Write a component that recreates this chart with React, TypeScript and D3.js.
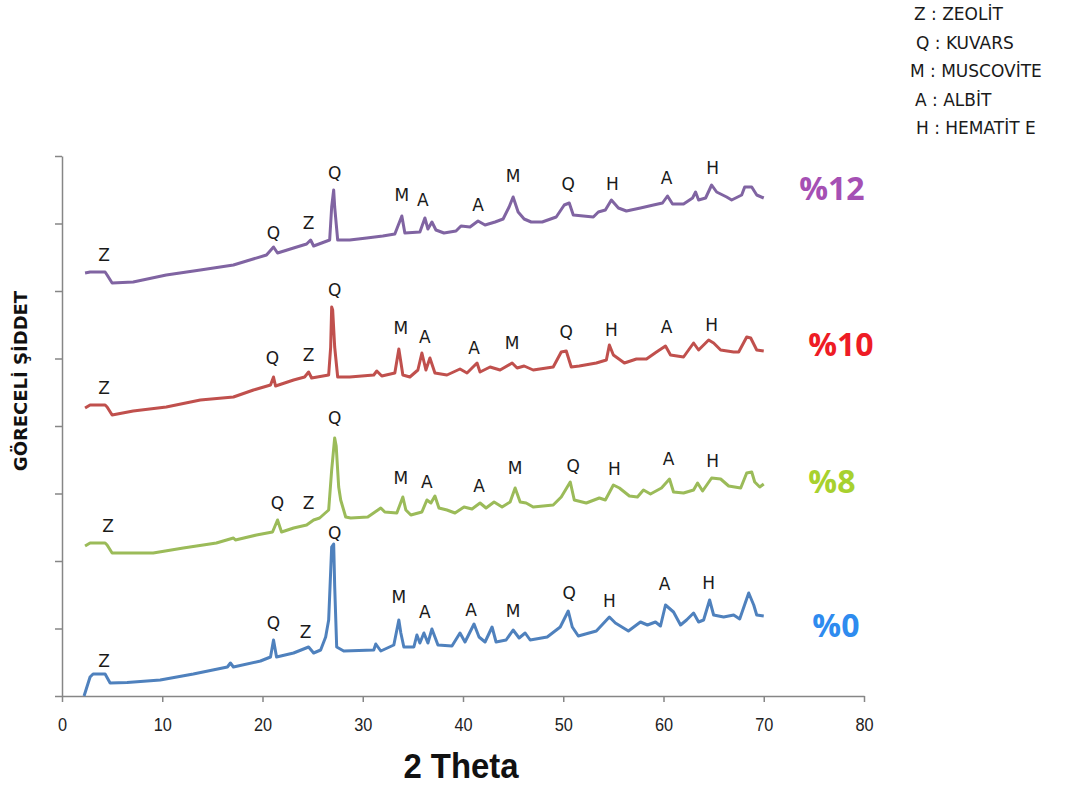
import React, { useEffect, useRef } from 'react';
import * as d3 from 'd3';

// [2 theta, level] — levels are already stacked (offset) as in the figure
const sample0 = [[2.2,0],[2.8,19],[3.1,22],[4.3,22],[4.8,13],[6.5,13.5],[9.8,16],[13.1,22],[16.5,29],[16.8,33],[17.1,29],[19.8,35],[20.8,39],[21.1,56],[21.4,39],[23.1,43],[24.6,49],[25.1,43],[25.8,46],[26.3,59],[26.6,76],[26.9,149],[27.1,152],[27.2,110],[27.4,49],[28.1,45],[31.1,46],[31.3,52],[31.8,45],[33.1,51],[33.6,76],[33.8,63],[34.1,49],[35.1,49],[35.4,61],[35.7,53],[36.1,63],[36.5,53],[36.9,67],[37.5,51],[38.9,50],[39.7,63],[40.2,54],[41.1,72],[41.6,59],[42.2,54],[42.9,69],[43.3,54],[44.3,56],[45.0,66],[45.6,58],[46.2,63],[46.7,56],[48.4,59],[49.7,69],[50.5,85],[50.9,69],[51.5,60],[53.3,65],[54.6,79],[55.2,73],[56.5,65],[57.7,74],[58.4,71],[59.2,74],[59.7,70],[60.2,91],[61.0,84],[61.7,71],[62.3,76],[63.0,83],[63.5,74],[64.0,76],[64.6,96],[65.0,81],[66.0,79],[67.0,81],[67.6,77],[68.5,103],[69.0,91],[69.3,81],[70.0,80]];
const sample8 = [[2.3,150],[2.8,153],[4.3,153],[4.5,151],[5.0,143],[7.1,143],[9.1,143],[12.1,148],[15.4,153],[17.1,158],[17.3,156],[19.4,161],[21.0,164],[21.5,176],[21.9,164],[23.1,168],[24.4,171],[25.1,176],[25.7,178],[26.6,186],[26.9,226],[27.2,258],[27.35,250],[27.6,209],[27.8,196],[28.3,179],[28.8,178],[30.5,179],[31.8,188],[32.2,184],[33.4,183],[34.0,199],[34.3,186],[34.8,181],[35.9,184],[36.4,196],[36.8,193],[37.2,200],[37.6,188],[38.4,186],[39.2,183],[40.1,189],[40.9,187],[41.7,193],[42.3,188],[43.1,194],[43.9,189],[44.7,194],[45.2,208],[45.7,194],[46.3,193],[47.0,189],[49.0,191],[49.8,199],[50.7,214],[51.1,196],[52.3,193],[53.6,198],[54.2,196],[55.0,211],[55.6,208],[56.6,200],[57.4,199],[58.0,206],[58.7,202],[59.8,208],[60.6,217],[61.0,204],[62.0,203],[63.0,206],[63.4,213],[63.9,205],[64.8,218],[65.7,217],[66.5,210],[67.7,208],[68.3,223],[68.8,224],[69.1,214],[69.6,209],[70.0,212]];
const sample10 = [[2.3,288],[2.8,291],[4.3,291],[4.5,289],[5.0,281],[7.1,285],[10.4,289],[13.8,296],[17.1,299],[19.1,306],[20.8,311],[21.1,319],[21.3,310],[23.1,316],[24.2,319],[24.6,324],[24.9,318],[26.6,321],[26.8,349],[26.9,389],[27.0,386],[27.2,349],[27.5,319],[28.7,319],[31.1,321],[31.4,325],[31.9,320],[33.2,323],[33.6,347],[34.0,321],[34.7,319],[35.5,326],[35.9,343],[36.3,326],[36.7,338],[37.2,323],[38.4,321],[39.7,327],[40.4,323],[41.4,333],[41.7,324],[42.7,329],[43.7,326],[44.9,333],[45.4,328],[46.1,330],[47.0,326],[49.0,329],[49.8,344],[50.3,345],[50.8,329],[51.6,330],[53.3,333],[54.3,336],[54.6,351],[55.0,341],[56.1,333],[57.3,337],[58.3,337],[59.3,344],[60.2,350],[60.7,341],[62.0,339],[63.0,353],[63.5,346],[64.5,356],[65.0,353],[65.7,346],[67.0,344],[67.5,344],[68.3,359],[68.7,358],[69.3,346],[70.0,345]];
const sample12 = [[2.3,423],[2.8,424],[4.3,424],[4.5,421],[5.0,413],[7.1,414],[10.4,421],[13.8,426],[17.1,431],[20.4,441],[21.1,449],[21.5,443],[23.1,448],[24.4,452],[24.8,456],[25.1,450],[26.7,456],[26.9,489],[27.1,506],[27.2,489],[27.5,456],[28.7,456],[30.4,458],[32.0,460],[33.2,462],[33.9,480],[34.2,463],[35.7,464],[36.2,478],[36.5,467],[36.9,474],[37.3,466],[38.1,463],[39.3,465],[39.8,470],[40.7,469],[41.5,475],[42.2,471],[43.2,474],[44.0,477],[44.6,489],[45.0,499],[45.5,484],[46.1,477],[46.8,474],[47.9,474],[49.3,479],[50.1,491],[50.6,493],[51.0,481],[52.0,480],[53.0,479],[53.5,484],[54.2,486],[54.8,496],[55.5,488],[56.3,485],[57.7,488],[59.0,491],[59.9,493],[60.4,500],[60.9,492],[62.0,492],[62.9,498],[63.2,504],[63.5,496],[64.2,498],[64.8,511],[65.3,504],[66.3,499],[66.8,496],[67.8,501],[68.1,509],[68.8,509],[69.3,501],[70.0,498]];

const peakLetters = ['Z', 'Q', 'Z', 'Q', 'M', 'A', 'A', 'M', 'Q', 'H', 'A', 'H'];
const peaks0Theta = [4.2, 21.1, 24.3, 27.2, 33.6, 36.2, 40.8, 45.0, 50.6, 54.6, 60.1, 64.5];
const peaks0Level = [35, 73, 64, 163, 99, 84, 86, 85, 103, 95, 112, 113];
const peaks8Theta = [4.6, 21.5, 24.6, 27.2, 33.8, 36.4, 41.6, 45.2, 51.0, 55.1, 60.5, 64.9];
const peaks8Level = [170, 193, 193, 278, 218, 214, 210, 228, 230, 227, 237, 235];
const peaks10Theta = [4.2, 21.0, 24.6, 27.2, 33.8, 36.2, 41.1, 44.9, 50.3, 54.8, 60.3, 64.8];
const peaks10Level = [308, 338, 341, 406, 368, 359, 348, 353, 364, 366, 369, 371];
const peaks12Theta = [4.2, 21.1, 24.6, 27.2, 33.9, 36.0, 41.5, 45.0, 50.5, 54.9, 60.3, 64.9];
const peaks12Level = [441, 463, 473, 523, 501, 496, 491, 520, 512, 512, 518, 528];

const sampleNames = ['%0', '%8', '%10', '%12'];
const lineColors = ['#4F81BD', '#9BBB59', '#C0504D', '#8064A2'];
const nameColors = ['#2E8BEF', '#A8D12E', '#EE1C25', '#A550B4'];
const nameTheta = [77.2, 76.8, 77.7, 76.8];
const nameLevel = [71, 215, 352, 508];

const legendLines = ['Z : ZEOLİT', 'Q : KUVARS', 'M : MUSCOVİTE', 'A : ALBİT', 'H : HEMATİT E'];
const legendX = [914, 916, 910, 915, 916];

const xTicks = d3.range(0, 81, 10);
const yTicks = d3.range(0, 541, 67.5);

const App = () => {
  const ref = useRef<SVGSVGElement>(null);

  useEffect(() => {
    const svg = d3.select(ref.current);
    svg.selectAll('*').remove();

    const x = d3.scaleLinear().domain([0, 80]).range([62, 864]);
    const y = d3.scaleLinear().domain([0, 540]).range([696, 156]);

    const samples = [sample0, sample8, sample10, sample12];
    const peakTheta = [peaks0Theta, peaks8Theta, peaks10Theta, peaks12Theta];
    const peakLevel = [peaks0Level, peaks8Level, peaks10Level, peaks12Level];

    // axes
    const xAxis = svg.append('g')
      .attr('transform', `translate(0,${y(0)})`)
      .call(d3.axisBottom(x).tickValues(xTicks).tickSize(6).tickSizeOuter(0).tickPadding(16));
    xAxis.select('.domain').attr('stroke', '#868686').attr('stroke-width', 1.5);
    xAxis.selectAll('.tick line').attr('stroke', '#868686').attr('stroke-width', 1.5);
    xAxis.selectAll('.tick text')
      .attr('fill', '#222')
      .attr('transform', 'scale(0.86,1)')
      .style('font-family', '"Liberation Sans", sans-serif')
      .style('font-size', '19px');

    const yAxis = svg.append('g')
      .attr('transform', `translate(${x(0)},0)`)
      .call(d3.axisLeft(y).tickValues(yTicks).tickFormat(() => '').tickSize(7).tickSizeOuter(0));
    yAxis.select('.domain').attr('stroke', '#868686').attr('stroke-width', 1.5);
    yAxis.selectAll('.tick line').attr('stroke', '#868686').attr('stroke-width', 1.5);

    const line = d3.line<number[]>()
      .x((d) => x(d[0]))
      .y((d) => y(d[1]));

    samples.forEach((s, i) => {
      svg.append('path')
        .datum(s)
        .attr('d', line)
        .attr('fill', 'none')
        .attr('stroke', lineColors[i])
        .attr('stroke-width', 3)
        .attr('stroke-linejoin', 'round');

      svg.append('g')
        .selectAll('text')
        .data(peakLetters)
        .join('text')
        .attr('x', (d, j) => x(peakTheta[i][j]))
        .attr('y', (d, j) => y(peakLevel[i][j]))
        .attr('dy', '0.36em')
        .attr('text-anchor', 'middle')
        .attr('fill', '#1a1a1a')
        .style('font-family', '"DejaVu Sans", sans-serif')
        .style('font-size', '17px')
        .text((d) => d);

      svg.append('text')
        .attr('x', x(nameTheta[i]))
        .attr('y', y(nameLevel[i]))
        .attr('dy', '0.36em')
        .attr('text-anchor', 'middle')
        .attr('fill', nameColors[i])
        .style('font-family', '"Open Sans", sans-serif')
        .style('font-weight', 'bold')
        .style('font-size', '32px')
        .text(sampleNames[i]);
    });

    // axis titles
    svg.append('text')
      .attr('transform', 'translate(461,778) scale(0.94,1)')
      .attr('text-anchor', 'middle')
      .attr('fill', '#111')
      .style('font-family', '"Liberation Sans", sans-serif')
      .style('font-weight', 'bold')
      .style('font-size', '35px')
      .text('2 Theta');

    svg.append('text')
      .attr('transform', 'translate(21,381) rotate(-90)')
      .attr('dy', '0.36em')
      .attr('text-anchor', 'middle')
      .attr('fill', '#111')
      .style('font-family', '"DejaVu Sans", sans-serif')
      .style('font-weight', 'bold')
      .style('font-size', '18px')
      .text('GÖRECELİ ŞİDDET');

    // mineral key, top right
    svg.append('g')
      .selectAll('text')
      .data(legendLines)
      .join('text')
      .attr('x', (d, i) => legendX[i])
      .attr('y', (d, i) => 14 + i * 28.5)
      .attr('dy', '0.36em')
      .attr('fill', '#1a1a1a')
      .style('font-family', '"DejaVu Sans", sans-serif')
      .style('font-size', '17px')
      .text((d) => d);
  }, []);

  return (
    <svg
      ref={ref}
      width={1083}
      height={786}
      style={{ position: 'absolute', left: 0, top: 0, background: '#fff' }}
    />
  );
};

export default App;
